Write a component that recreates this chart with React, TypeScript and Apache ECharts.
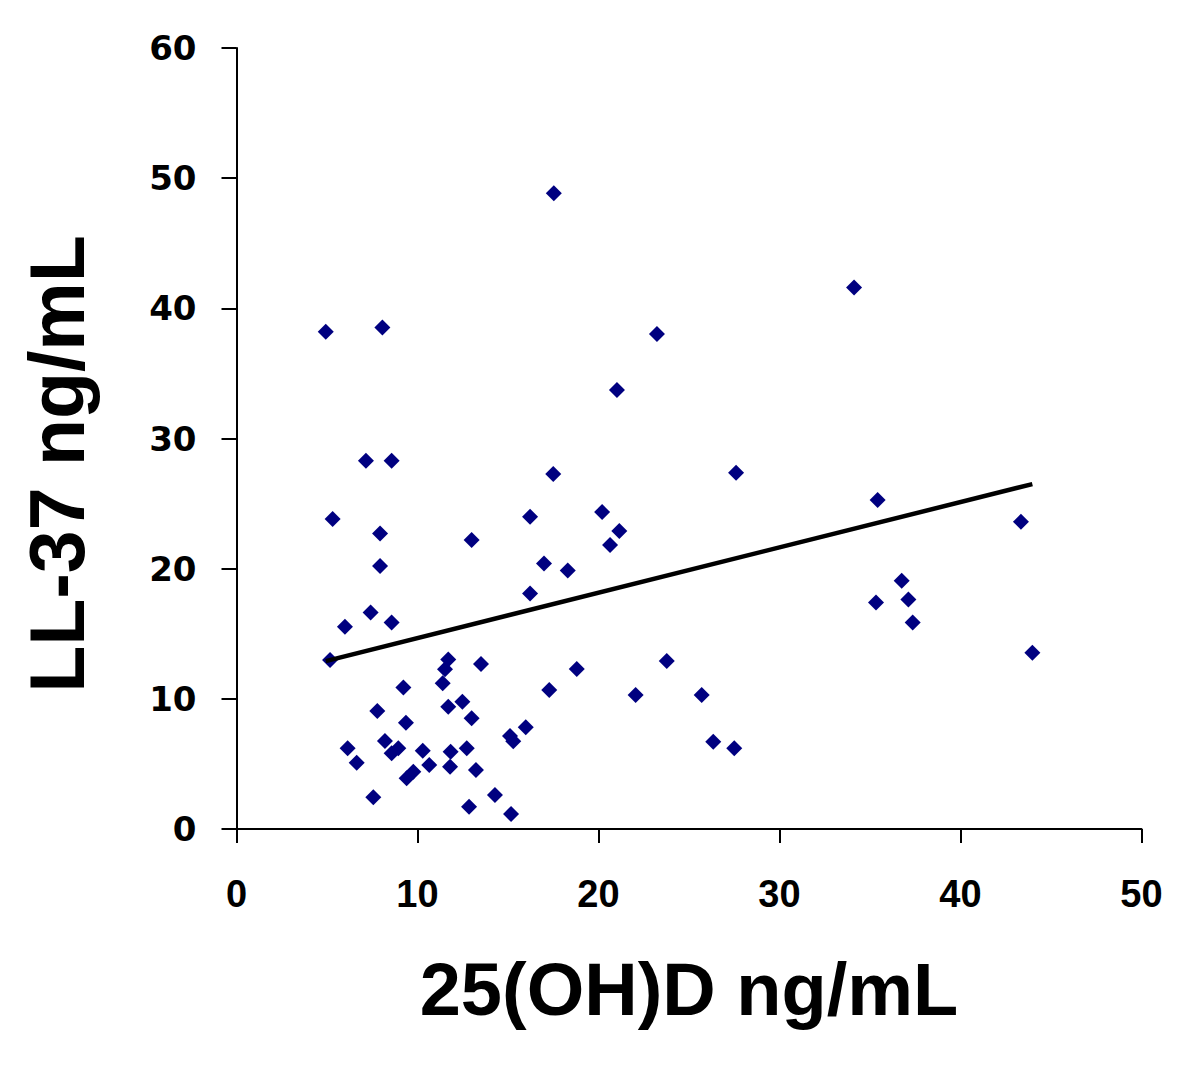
import React, { useEffect, useRef } from "react";
import * as echarts from "echarts";

// 25(OH)D ng/mL (x) and LL-37 ng/mL (y)
const vitaminD = [
  4.93, 8.06, 7.15, 8.57, 17.5, 5.31, 7.93, 16.22, 20.2, 12.99,
  7.93, 16.99, 18.3, 16.22, 7.41, 8.57, 5.99, 17.53, 27.6, 21.15,
  20.64, 21.02, 23.23, 34.12, 35.42, 43.34, 36.75, 35.33, 37.12, 37.36,
  43.97, 5.17, 11.7, 11.52, 13.51, 9.22, 11.39, 17.28, 7.78, 11.7,
  12.48, 12.99, 9.36, 8.2, 8.94, 8.57, 6.14, 6.64, 10.29, 11.83,
  12.72, 15.11, 15.29, 15.98, 10.65, 11.8, 13.23, 9.77, 9.4, 7.56,
  14.28, 12.85, 15.17, 18.8, 23.77, 22.05, 25.7, 26.34, 27.5,
];
const ll37 = [
  38.2, 38.53, 28.29, 28.29, 27.27, 23.81, 22.71, 23.99, 24.35, 22.2,
  20.2, 20.4, 19.86, 18.1, 16.64, 15.87, 15.54, 48.85, 27.37, 22.89,
  21.81, 33.72, 38.02, 41.6, 25.27, 23.6, 19.07, 17.41, 17.64, 15.87,
  13.54, 12.98, 13.03, 12.27, 12.67, 10.88, 11.19, 10.68, 9.06, 9.39,
  9.78, 8.5, 8.17, 6.76, 6.2, 5.81, 6.2, 5.09, 6.01, 5.94,
  6.2, 7.14, 6.74, 7.81, 4.92, 4.79, 4.53, 4.4, 3.89, 2.43,
  2.61, 1.71, 1.15, 12.29, 12.9, 10.29, 10.29, 6.71, 6.2,
];
// trend line end points
const trendX = [4.93, 43.97];
const trendY = [12.9, 26.5];

const xTitle = "25(OH)D ng/mL";
const yTitle = "LL-37 ng/mL";

export default function App() {
  const ref = useRef<HTMLDivElement>(null);
  useEffect(() => {
    if (!ref.current) return;
    const chart = echarts.init(ref.current, undefined, { renderer: "svg" });
    const axisLine = { show: true, lineStyle: { color: "#000", width: 2 } };
    chart.setOption({
      animation: false,
      backgroundColor: "#fff",
      grid: { left: 236.5, right: 58.5, top: 48, bottom: 239, containLabel: false },
      xAxis: {
        type: "value",
        min: 0,
        max: 50,
        interval: 10,
        axisLine: { ...axisLine, onZero: false },
        axisTick: { show: true, inside: false, length: 14, lineStyle: { color: "#000", width: 2 } },
        splitLine: { show: false },
        axisLabel: {
          color: "#000",
          fontFamily: "Liberation Sans",
          fontWeight: "bold",
          fontSize: 38,
          margin: 46,
        },
      },
      yAxis: {
        type: "value",
        min: 0,
        max: 60,
        interval: 10,
        axisLine: { ...axisLine, onZero: false },
        axisTick: { show: true, inside: false, length: 15, lineStyle: { color: "#000", width: 2 } },
        splitLine: { show: false },
        axisLabel: {
          color: "#000",
          fontFamily: "DejaVu Sans",
          fontWeight: "bold",
          fontSize: 34,
          margin: 40,
        },
      },
      series: [
        {
          type: "scatter",
          data: vitaminD.map((v, i) => [v, ll37[i]]),
          symbol: "diamond",
          symbolSize: [16, 16],
          itemStyle: { color: "#000080", opacity: 1 },
          z: 2,
        },
        {
          type: "line",
          data: trendX.map((v, i) => [v, trendY[i]]),
          showSymbol: false,
          symbol: "none",
          lineStyle: { color: "#000", width: 4.5 },
          z: 3,
        },
      ],
      graphic: [
        {
          type: "text",
          x: 689,
          y: 989,
          style: {
            text: xTitle,
            fill: "#000",
            fontFamily: "Liberation Sans",
            fontWeight: "bold",
            fontSize: 74,
            textAlign: "center",
            textVerticalAlign: "middle",
          },
        },
        {
          type: "text",
          x: 57,
          y: 464,
          rotation: Math.PI / 2,
          style: {
            text: yTitle,
            fill: "#000",
            fontFamily: "Liberation Sans",
            fontWeight: "bold",
            fontSize: 77,
            textAlign: "center",
            textVerticalAlign: "middle",
          },
        },
      ],
    });
    return () => chart.dispose();
  }, []);
  return (
    <div
      ref={ref}
      style={{ position: "fixed", left: 0, top: 0, width: 1200, height: 1068, background: "#fff" }}
    />
  );
}
